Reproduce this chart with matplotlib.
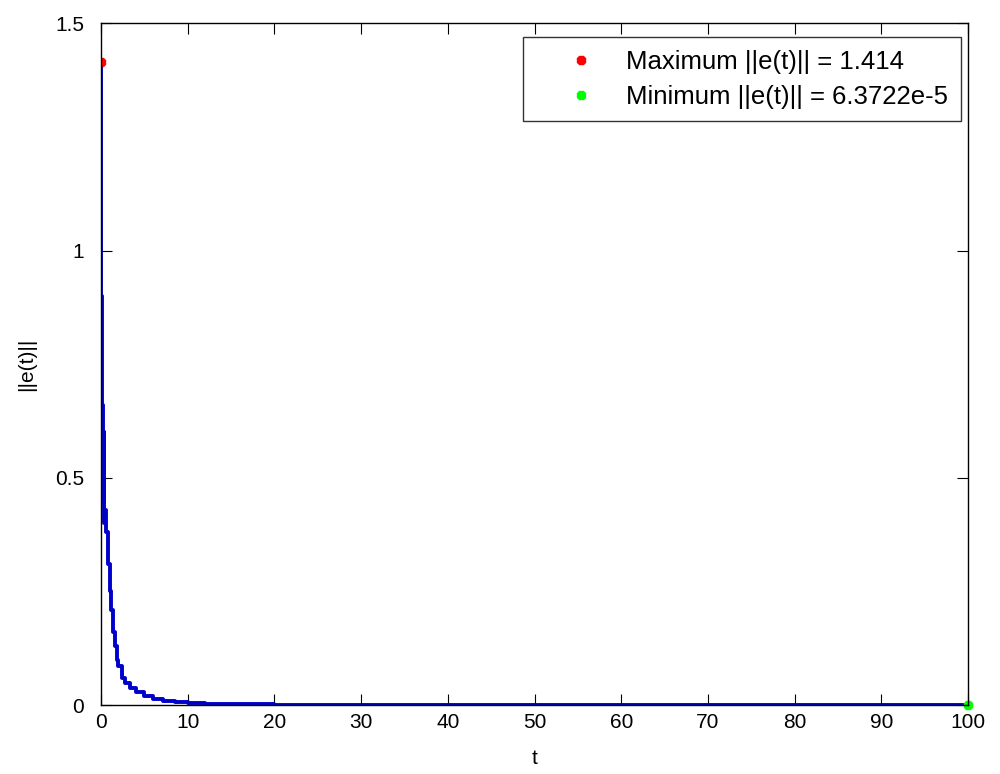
import numpy as np
import matplotlib
matplotlib.use('Agg')
import matplotlib.pyplot as plt

# error norm samples
t = [0, 0.05, 0.1, 0.2, 0.3, 0.4, 0.5, 0.6, 0.8, 1.0, 1.2, 1.4, 1.6, 1.8, 2.0,
     2.4, 2.8, 3.3, 4.0, 5.0, 6.0, 7.2, 8.5, 10, 12, 15, 20, 30, 50, 100]
e = [1.414, 0.9, 0.66, 0.45, 0.6, 0.40, 0.43, 0.38, 0.31, 0.25, 0.21, 0.16, 0.13, 0.10, 0.085,
     0.06, 0.048, 0.038, 0.028, 0.02, 0.014, 0.010, 0.007, 0.005, 0.003, 0.002, 0.001, 0.0005, 0.0002, 0.00006]

maxPoint = (0, 1.414)
minPoint = (100, 6.3722e-5)
maxLabel = 'Maximum ||e(t)|| = 1.414'
minLabel = 'Minimum ||e(t)|| = 6.3722e-5'

plt.rcParams['font.family'] = ['Liberation Sans', 'DejaVu Sans']

fig = plt.figure(figsize=(10, 7.74), dpi=100)
ax = fig.add_axes([0.101, 0.089, 0.867, 0.881])

ax.plot(t, e, color='#0000cc', linewidth=2.8, drawstyle='steps-post')
ax.plot(*maxPoint, '8', color='#ff0000', markersize=7, label=maxLabel, linestyle='none')
ax.plot(*minPoint, '8', color='#00ff00', markersize=7, label=minLabel, linestyle='none', clip_on=False)

ax.set_xlim(0, 100)
ax.set_ylim(0, 1.5)
ax.set_xticks(np.arange(0, 101, 10))
ax.set_yticks([0, 0.5, 1, 1.5])
ax.set_yticklabels(['0', '0.5', '1', '1.5'])
ax.tick_params(direction='in', top=True, right=True, length=8, labelsize=15)
ax.tick_params(axis='y', pad=12)
ax.tick_params(axis='x', pad=6)
for s in ax.spines.values():
    s.set_linewidth(1.0)

ax.set_xlabel('t', fontsize=15, labelpad=12)
ax.set_ylabel('||e(t)||', fontsize=15, labelpad=14)

leg = ax.legend(loc='upper right', bbox_to_anchor=(0.961, 1 - 37 / 774),
                bbox_transform=fig.transFigure, borderaxespad=0,
                fontsize=18.5, frameon=True, fancybox=False,
                edgecolor='black', handlelength=3.5, handletextpad=0.0,
                borderpad=0.5, labelspacing=0.42)
leg.get_frame().set_linewidth(1.0)

plt.savefig('out.png')
